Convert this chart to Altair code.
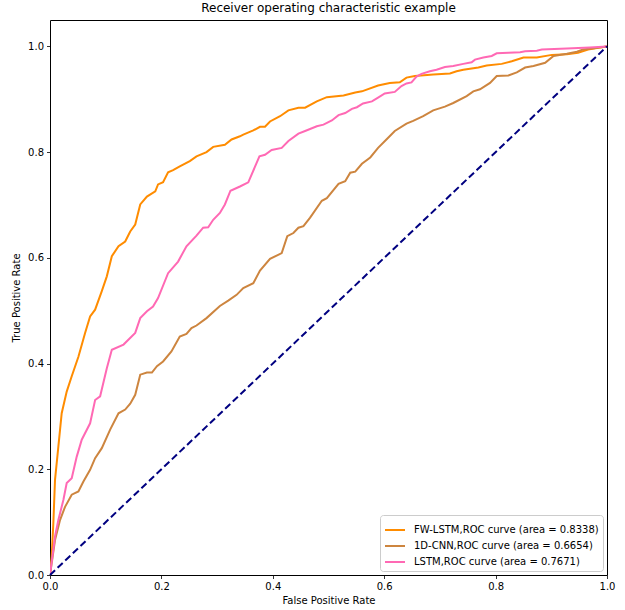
import altair as alt
import pandas as pd

labels = [
    "FW-LSTM,ROC curve (area = 0.8338)",
    "1D-CNN,ROC curve (area = 0.6654)",
    "LSTM,ROC curve (area = 0.7671)",
]
colors = ["#ff8c00", "#cd853f", "#ff69b4"]

fw_fpr = [0, 0.003, 0.006, 0.009, 0.015, 0.021, 0.030, 0.039, 0.051, 0.063, 0.072, 0.081, 0.093, 0.102,
          0.111, 0.123, 0.135, 0.144, 0.153, 0.162, 0.174, 0.189, 0.194, 0.203, 0.212, 0.221, 0.233, 0.251,
          0.263, 0.281, 0.293, 0.314, 0.326, 0.341, 0.347, 0.365, 0.377, 0.386, 0.395, 0.413, 0.428, 0.446,
          0.458, 0.479, 0.497, 0.527, 0.548, 0.560, 0.589, 0.610, 0.628, 0.640, 0.655, 0.688, 0.718, 0.730,
          0.742, 0.769, 0.784, 0.811, 0.829, 0.850, 0.874, 0.901, 0.928, 0.948, 0.966, 0.987, 1.0]
fw_tpr = [0, 0.035, 0.098, 0.180, 0.243, 0.306, 0.347, 0.376, 0.413, 0.458, 0.489, 0.502, 0.537, 0.565,
          0.603, 0.622, 0.631, 0.650, 0.663, 0.701, 0.716, 0.726, 0.739, 0.743, 0.762, 0.766, 0.773, 0.783,
          0.792, 0.800, 0.810, 0.814, 0.824, 0.830, 0.833, 0.841, 0.848, 0.848, 0.858, 0.868, 0.879, 0.884,
          0.884, 0.896, 0.904, 0.907, 0.913, 0.915, 0.926, 0.931, 0.932, 0.941, 0.944, 0.947, 0.949, 0.953,
          0.956, 0.960, 0.964, 0.967, 0.972, 0.979, 0.979, 0.984, 0.985, 0.988, 0.994, 0.998, 1.0]

cnn_fpr = [0, 0.009, 0.018, 0.027, 0.039, 0.051, 0.060, 0.072, 0.081, 0.093, 0.108, 0.123, 0.135, 0.144,
           0.153, 0.162, 0.174, 0.183, 0.192, 0.203, 0.218, 0.233, 0.245, 0.254, 0.263, 0.281, 0.305, 0.320,
           0.335, 0.347, 0.365, 0.377, 0.395, 0.416, 0.426, 0.437, 0.446, 0.455, 0.467, 0.488, 0.497, 0.518,
           0.530, 0.539, 0.548, 0.560, 0.575, 0.589, 0.604, 0.619, 0.640, 0.652, 0.670, 0.688, 0.709, 0.724,
           0.748, 0.760, 0.772, 0.790, 0.802, 0.823, 0.838, 0.853, 0.868, 0.889, 0.904, 0.928, 0.946, 0.957,
           0.987, 1.0]
cnn_tpr = [0, 0.066, 0.104, 0.129, 0.152, 0.158, 0.177, 0.199, 0.221, 0.240, 0.275, 0.306, 0.313, 0.324,
           0.341, 0.379, 0.383, 0.383, 0.395, 0.404, 0.423, 0.451, 0.456, 0.467, 0.472, 0.486, 0.509, 0.519,
           0.530, 0.543, 0.552, 0.576, 0.598, 0.609, 0.641, 0.647, 0.657, 0.660, 0.676, 0.708, 0.713, 0.740,
           0.745, 0.761, 0.763, 0.778, 0.790, 0.808, 0.824, 0.840, 0.854, 0.859, 0.868, 0.879, 0.886, 0.893,
           0.906, 0.915, 0.919, 0.931, 0.944, 0.945, 0.951, 0.960, 0.963, 0.969, 0.982, 0.986, 0.990, 0.994,
           0.998, 1.0]

lstm_fpr = [0, 0.009, 0.015, 0.024, 0.030, 0.039, 0.048, 0.057, 0.072, 0.081, 0.090, 0.102, 0.111, 0.132,
            0.153, 0.162, 0.174, 0.185, 0.194, 0.212, 0.230, 0.245, 0.263, 0.275, 0.284, 0.293, 0.305, 0.314,
            0.324, 0.341, 0.356, 0.376, 0.386, 0.398, 0.416, 0.428, 0.446, 0.458, 0.479, 0.491, 0.506, 0.518,
            0.530, 0.542, 0.551, 0.562, 0.578, 0.589, 0.601, 0.619, 0.631, 0.640, 0.649, 0.658, 0.667, 0.682,
            0.694, 0.709, 0.724, 0.742, 0.757, 0.763, 0.778, 0.793, 0.802, 0.823, 0.844, 0.853, 0.874, 0.883,
            0.928, 0.969, 1.0]
lstm_tpr = [0, 0.073, 0.104, 0.142, 0.174, 0.183, 0.224, 0.256, 0.287, 0.331, 0.338, 0.391, 0.426, 0.436,
            0.458, 0.486, 0.499, 0.508, 0.524, 0.571, 0.593, 0.622, 0.642, 0.657, 0.658, 0.672, 0.685, 0.701,
            0.727, 0.735, 0.743, 0.792, 0.795, 0.804, 0.808, 0.821, 0.835, 0.840, 0.849, 0.852, 0.860, 0.870,
            0.874, 0.882, 0.885, 0.892, 0.896, 0.903, 0.911, 0.914, 0.925, 0.930, 0.932, 0.943, 0.948, 0.953,
            0.956, 0.961, 0.963, 0.967, 0.970, 0.975, 0.979, 0.982, 0.987, 0.988, 0.989, 0.991, 0.992, 0.994,
            0.996, 0.998, 1.0]

diag = [0.0, 1.0]

rows = []
for name, fx, fy in zip(labels, [fw_fpr, cnn_fpr, lstm_fpr], [fw_tpr, cnn_tpr, lstm_tpr]):
    for i, (a, b) in enumerate(zip(fx, fy)):
        rows.append({"series": name, "fpr": a, "tpr": b, "i": i})
df = pd.DataFrame(rows)
ddf = pd.DataFrame({"fpr": diag, "tpr": diag})

xs = alt.Scale(domain=[0, 1], nice=False, zero=False)
ys = alt.Scale(domain=[0, 1.05], nice=False, zero=False)
ticks = [0, 0.2, 0.4, 0.6, 0.8, 1.0]

lines = alt.Chart(df).mark_line(strokeWidth=2, clip=True).encode(
    x=alt.X("fpr:Q", scale=xs, title="False Positive Rate",
            axis=alt.Axis(values=ticks, format=".1f", labelFlush=False)),
    y=alt.Y("tpr:Q", scale=ys, title="True Positive Rate",
            axis=alt.Axis(values=ticks, format=".1f", labelFlush=False)),
    color=alt.Color("series:N", scale=alt.Scale(domain=labels, range=colors), sort=labels,
                    legend=alt.Legend(title=None, orient="bottom-right", offset=4,
                                      labelFont="DejaVu Sans", labelFontSize=10)),
    order="i:Q",
    detail="series:N",
)

diagonal = alt.Chart(ddf).mark_line(color="#000080", strokeWidth=2, strokeDash=[7, 3.5]).encode(
    x=alt.X("fpr:Q", scale=xs),
    y=alt.Y("tpr:Q", scale=ys),
)

chart = alt.layer(lines, diagonal).properties(
    width=557, height=555,
    title=alt.Title("Receiver operating characteristic example", fontSize=12, fontWeight="normal",
                    font="DejaVu Sans", color="black", offset=5),
    autosize=alt.AutoSizeParams(type="none"),
    padding={"left": 50, "top": 20, "right": 18, "bottom": 35},
).configure_view(
    stroke="black", strokeWidth=1
).configure_axis(
    domain=False, grid=False, tickColor="black", tickSize=3.5, tickWidth=0.8,
    labelFont="DejaVu Sans", labelFontSize=10, labelColor="black", labelPadding=3,
    titleFont="DejaVu Sans", titleFontSize=10, titleFontWeight="normal", titleColor="black",
).configure_axisX(titlePadding=4).configure_axisY(titlePadding=6).configure_legend(
    labelColor="black",
    symbolType="stroke", symbolStrokeWidth=2, symbolSize=400,
    strokeColor="#cccccc", fillColor="white", padding=4, cornerRadius=3,
    rowPadding=0, labelLimit=400, labelOffset=8,
)

chart.save("out.html", embed_options={"renderer": "svg", "actions": False})
